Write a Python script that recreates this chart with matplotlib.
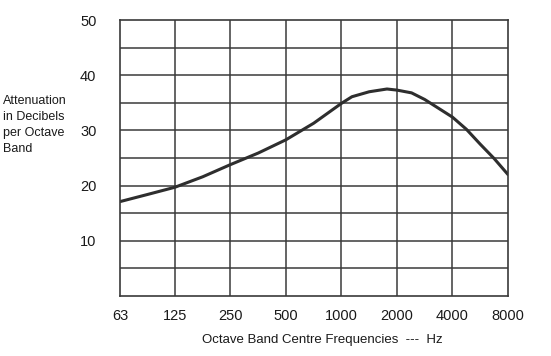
import numpy as np
import matplotlib.pyplot as plt

plt.rcParams["font.family"] = ["Liberation Sans", "DejaVu Sans"]

# octave band centre frequencies (Hz) and tick labels
band_freqs = [63, 125, 250, 500, 1000, 2000, 4000, 8000]
band_labels = ["63", "125", "250", "500", "1000", "2000", "4000", "8000"]

# attenuation curve (dB per octave band)
curve_freqs = [63, 89, 125, 177, 250, 354, 500, 707, 1000, 1140, 1414, 1765, 2000, 2400, 2828, 4000, 4760, 5657, 6730, 8000]
curve_db = [17.1, 18.4, 19.7, 21.6, 23.8, 25.9, 28.3, 31.3, 34.9, 36.1, 37.0, 37.5, 37.3, 36.8, 35.6, 32.4, 30.2, 27.5, 24.9, 22.0]

y_ticks = [10, 20, 30, 40, 50]
y_grid = [5, 10, 15, 20, 25, 30, 35, 40, 45]

fig = plt.figure(figsize=(5.51, 3.56), dpi=100)
ax = fig.add_axes([120 / 551, 1 - 296 / 356, 388 / 551, 276 / 356])

grid_col = "#3a3a3a"
for f in band_freqs[1:-1]:
    ax.axvline(f, color=grid_col, lw=1.1)
for v in y_grid:
    ax.axhline(v, color=grid_col, lw=1.1)

ax.plot(curve_freqs, curve_db, color="#2e2e2e", lw=2.2, solid_capstyle="round",
        solid_joinstyle="round")

ax.set_xscale("log")
ax.set_xlim(63, 8000)
ax.set_ylim(0, 50)
ax.set_xticks(band_freqs)
ax.set_xticklabels(band_labels)
ax.xaxis.set_minor_locator(plt.NullLocator())
ax.set_yticks(y_ticks)
ax.tick_params(axis="both", length=0, labelsize=10.5, colors="#1a1a1a")
ax.tick_params(axis="x", pad=9)
ax.tick_params(axis="y", pad=17)
for s in ax.spines.values():
    s.set_color(grid_col)
    s.set_linewidth(1.2)

fig.text(3 / 551, 1 - 95 / 356, "Attenuation\nin Decibels\nper Octave\nBand",
         ha="left", va="top", fontsize=9, color="#1a1a1a", linespacing=1.45)
fig.text(322 / 551, 1 - 340 / 356, "Octave Band Centre Frequencies  ---  Hz",
         ha="center", va="center", fontsize=9.5, color="#1a1a1a")

fig.savefig("out.png", dpi=100)
